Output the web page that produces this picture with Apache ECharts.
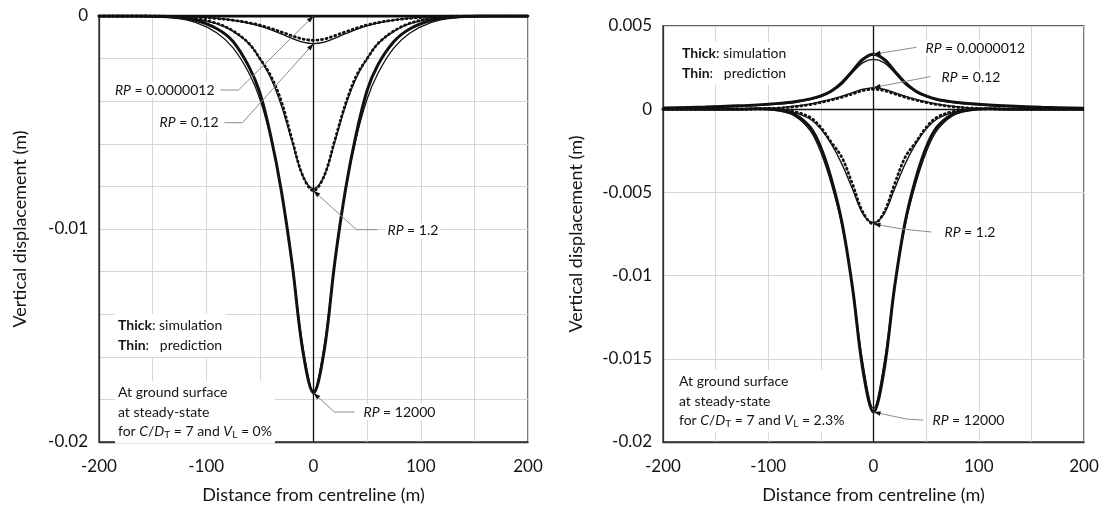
<!DOCTYPE html>
<html>
<head>
<meta charset="utf-8">
<script src="https://cdn.jsdelivr.net/npm/echarts@6/dist/echarts.min.js"></script>
<style>
  html, body { margin: 0; padding: 0; background: #fff; }
  #chart { width: 1107px; height: 509px; }
</style>
</head>
<body>
<div id="chart"></div>
<script>
// Distance from centreline (m)
const X = [-200, -160, -130, -110, -90, -75, -60, -50, -40, -30, -20, -10, 0,
           10, 20, 30, 40, 50, 60, 75, 90, 110, 130, 160, 200];

// Tick labels
const X_TICKS = ['-200', '-100', '0', '100', '200'];
const Y_TICKS_LEFT = ['0', '-0.01', '-0.02'];

// V_L = 0 %  (vertical displacement, m)
const L_RP1_SIM  = [0,0,0,0,0,0,0,0,0,0,0,0,0,0,0,0,0,0,0,0,0,0,0,0,0];
const L_RP1_PRED = [0,0,0,0,0,0,0,0,0,0,0,0,0,0,0,0,0,0,0,0,0,0,0,0,0];
const L_RP2_SIM  = [0,0,-0.00002,-0.00005,-0.00012,-0.0002,-0.00032,-0.00043,-0.00058,-0.00075,-0.00093,-0.00108,-0.00114,-0.00108,-0.00092,-0.00074,-0.00057,-0.00042,-0.00031,-0.00019,-0.00011,-0.00004,-0.00001,0,0];
const L_RP2_PRED = [0,0,-0.00001,-0.00004,-0.00011,-0.0002,-0.00034,-0.00047,-0.00064,-0.00084,-0.00105,-0.00123,-0.0013,-0.00123,-0.00104,-0.00083,-0.00063,-0.00046,-0.00033,-0.00019,-0.0001,-0.00003,-0.00001,0,0];
const L_RP3_SIM  = [0,0,-0.00004,-0.00012,-0.00035,-0.0007,-0.0013,-0.002,-0.0028,-0.004,-0.0058,-0.0075,-0.0082,-0.0075,-0.0058,-0.0041,-0.0028,-0.002,-0.0013,-0.0007,-0.00034,-0.00011,-0.00003,0,0];
const L_RP3_PRED = [0,0,-0.00005,-0.00013,-0.00037,-0.00072,-0.0013,-0.002,-0.0029,-0.0042,-0.0059,-0.0075,-0.0081,-0.0075,-0.0059,-0.0042,-0.0029,-0.002,-0.0013,-0.00072,-0.00036,-0.00012,-0.00004,0,0];
const L_RP4_SIM  = [0,0,-0.00005,-0.0002,-0.0006,-0.0012,-0.0024,-0.0036,-0.0056,-0.0082,-0.0116,-0.0157,-0.0177,-0.0157,-0.0115,-0.0081,-0.0055,-0.0035,-0.0023,-0.0012,-0.0006,-0.0002,-0.00005,0,0];
const L_RP4_PRED = [0,-0.00002,-0.0001,-0.0003,-0.0008,-0.0015,-0.0027,-0.0039,-0.0057,-0.0082,-0.0115,-0.0155,-0.0176,-0.0155,-0.0114,-0.0081,-0.0057,-0.0039,-0.0027,-0.0015,-0.0008,-0.0003,-0.0001,-0.00002,0];

// V_L = 2.3 %  (vertical displacement, m)
const R_RP1_SIM  = [0.00007,0.00013,0.0002,0.00026,0.00035,0.00045,0.00062,0.0008,0.0011,0.0016,0.0023,0.003,0.0033,0.003,0.0023,0.0016,0.0011,0.0008,0.0006,0.00044,0.00034,0.00025,0.00019,0.00012,0.00006];
const R_RP1_PRED = [0.00005,0.0001,0.00016,0.00022,0.0003,0.0004,0.00057,0.00075,0.00105,0.0015,0.0022,0.0028,0.003,0.0028,0.0022,0.0015,0.00105,0.00075,0.00056,0.0004,0.0003,0.00022,0.00016,0.0001,0.00005];
const R_RP2_SIM  = [0,0,0,0.00002,0.00007,0.00015,0.00028,0.0004,0.00055,0.00072,0.00092,0.00112,0.0012,0.00112,0.00092,0.00072,0.00055,0.0004,0.00028,0.00015,0.00007,0.00002,0,0,0];
const R_RP2_PRED = [0,0,0.00001,0.00003,0.00008,0.00018,0.00032,0.00045,0.0006,0.00078,0.001,0.0012,0.0013,0.0012,0.001,0.00078,0.0006,0.00045,0.00032,0.00018,0.00008,0.00003,0.00001,0,0];
const R_RP3_SIM  = [0,0,0,0.00002,0,-0.00015,-0.0005,-0.0011,-0.002,-0.0029,-0.0045,-0.0062,-0.0069,-0.0062,-0.0045,-0.0029,-0.002,-0.0011,-0.0005,-0.00015,0,0.00002,0,0,0];
const R_RP3_PRED = [0,0,0,0,-0.00003,-0.0002,-0.0006,-0.0012,-0.0021,-0.0033,-0.0048,-0.0063,-0.0068,-0.0063,-0.0048,-0.0033,-0.0021,-0.0012,-0.0006,-0.0002,-0.00003,0,0,0,0];
const R_RP4_SIM  = [0,0,0,0.00002,-0.00005,-0.0003,-0.0011,-0.0023,-0.0042,-0.0068,-0.0107,-0.0157,-0.0182,-0.0157,-0.0107,-0.0068,-0.0042,-0.0023,-0.0011,-0.0003,-0.00005,0.00002,0,0,0];
const R_RP4_PRED = [0,0,0,0,-0.0001,-0.0004,-0.0013,-0.0026,-0.0045,-0.007,-0.0106,-0.0153,-0.018,-0.0153,-0.0106,-0.007,-0.0045,-0.0026,-0.0013,-0.0004,-0.0001,0,0,0,0];

const FONT = 'Lato, "Open Sans", sans-serif';
const INK = '#111';
const TXT = '#141414';

const chart = echarts.init(document.getElementById('chart'), null, { renderer: 'canvas' });

function pairs(ys) { return X.map((x, i) => [x, ys[i]]); }

function curve(name, ys, grid, kind) {
  const base = {
    name, type: 'line', xAxisIndex: grid, yAxisIndex: grid,
    data: pairs(ys), showSymbol: false, symbol: 'none',
    smooth: 0.35, animation: false, silent: true
  };
  if (kind === 'thick') base.lineStyle = { color: INK, width: 3 };
  else if (kind === 'dots') base.lineStyle = { color: INK, width: 2.8, type: [1, 3.6], cap: 'round' };
  else base.lineStyle = { color: INK, width: 1.3 };
  return base;
}

function centreLines(withZero) {
  const d = [{ xAxis: 0 }];
  if (withZero) d.push({ yAxis: 0 });
  return {
    silent: true, symbol: 'none', animation: false,
    label: { show: false },
    lineStyle: { color: INK, width: 1.3, type: 'solid' },
    data: d
  };
}

function xAxisCfg(grid) {
  return {
    gridIndex: grid, type: 'value', min: -200, max: 200, interval: 50,
    name: 'Distance from centreline (m)', nameLocation: 'middle', nameGap: 44,
    nameTextStyle: { fontFamily: FONT, fontSize: 18, color: TXT },
    axisLine: { show: true, onZero: false, lineStyle: { color: '#333', width: 1.3 } },
    axisTick: { show: false },
    axisLabel: {
      fontFamily: FONT, fontSize: 17, color: TXT, margin: 16, interval: 0,
      formatter: v => {
        const s = String(Math.round(v));
        return X_TICKS.indexOf(s) >= 0 ? s : '';
      }
    },
    splitLine: { show: true, lineStyle: { color: '#d6d6d6', width: 1 } }
  };
}

const option = {
  backgroundColor: '#fff',
  animation: false,
  grid: [
    { left: 99, top: 16, width: 429, height: 427, show: true, borderColor: '#333', borderWidth: 1.3, backgroundColor: 'transparent' },
    { left: 663, top: 26, width: 421, height: 419, show: true, borderColor: '#333', borderWidth: 1.3, backgroundColor: 'transparent' }
  ],
  xAxis: [xAxisCfg(0), xAxisCfg(1)],
  yAxis: [
    {
      gridIndex: 0, type: 'value', min: -0.02, max: 0, interval: 0.002,
      name: 'Vertical displacement (m)', nameLocation: 'middle', nameGap: 70,
      nameTextStyle: { fontFamily: FONT, fontSize: 18, color: TXT },
      axisLine: { show: true, onZero: false, lineStyle: { color: '#333', width: 1.3 } },
      axisTick: { show: false },
      axisLabel: {
        fontFamily: FONT, fontSize: 17, color: TXT, margin: 11, interval: 0,
        formatter: v => {
          const s = v === 0 ? '0' : String(Number(v.toFixed(4)));
          return Y_TICKS_LEFT.indexOf(s) >= 0 ? s : '';
        }
      },
      splitLine: { show: true, lineStyle: { color: '#d6d6d6', width: 1 } }
    },
    {
      gridIndex: 1, type: 'value', min: -0.02, max: 0.005, interval: 0.005,
      name: 'Vertical displacement (m)', nameLocation: 'middle', nameGap: 78,
      nameTextStyle: { fontFamily: FONT, fontSize: 18, color: TXT },
      axisLine: { show: true, onZero: false, lineStyle: { color: '#333', width: 1.3 } },
      axisTick: { show: false },
      axisLabel: {
        fontFamily: FONT, fontSize: 17, color: TXT, margin: 11,
        formatter: v => (v === 0 ? '0' : String(Number(v.toFixed(4))))
      },
      splitLine: { show: true, lineStyle: { color: '#d6d6d6', width: 1 } }
    }
  ],
  series: [
    Object.assign(curve('RP = 0.0000012 simulation', L_RP1_SIM, 0, 'thick'), { markLine: centreLines(false) }),
    curve('RP = 0.0000012 prediction', L_RP1_PRED, 0, 'thin'),
    curve('RP = 0.12 prediction', L_RP2_PRED, 0, 'thin'),
    curve('RP = 0.12 simulation', L_RP2_SIM, 0, 'dots'),
    curve('RP = 1.2 prediction', L_RP3_PRED, 0, 'thin'),
    curve('RP = 1.2 simulation', L_RP3_SIM, 0, 'dots'),
    curve('RP = 12000 prediction', L_RP4_PRED, 0, 'thin'),
    curve('RP = 12000 simulation', L_RP4_SIM, 0, 'thick'),

    Object.assign(curve('RP = 0.0000012 simulation', R_RP1_SIM, 1, 'thick'), { markLine: centreLines(true) }),
    curve('RP = 0.0000012 prediction', R_RP1_PRED, 1, 'thin'),
    curve('RP = 0.12 prediction', R_RP2_PRED, 1, 'thin'),
    curve('RP = 0.12 simulation', R_RP2_SIM, 1, 'dots'),
    curve('RP = 1.2 prediction', R_RP3_PRED, 1, 'thin'),
    curve('RP = 1.2 simulation', R_RP3_SIM, 1, 'dots'),
    curve('RP = 12000 prediction', R_RP4_PRED, 1, 'thin'),
    curve('RP = 12000 simulation', R_RP4_SIM, 1, 'thick')
  ]
};

chart.setOption(option);

// Callouts: arrow tip sits on the centreline value of each curve pair,
// the leader runs through the listed pixel offsets to the label.
const CENTRE = X.indexOf(0);
function peak(a, b) {
  const va = a[CENTRE], vb = b[CENTRE];
  return Math.abs(va) >= Math.abs(vb) ? va : vb;
}
const CALLOUTS = [
  { grid: 0, rp: '0.0000012', v: peak(L_RP1_SIM, L_RP1_PRED), path: [[-75, 74], [-93, 74]], text: [-97, 74], align: 'right' },
  { grid: 0, rp: '0.12',      v: peak(L_RP2_SIM, L_RP2_PRED), path: [[-71, 79], [-89, 79]], text: [-93, 79], align: 'right' },
  { grid: 0, rp: '1.2',       v: peak(L_RP3_SIM, L_RP3_PRED), path: [[43, 39], [64, 39]],  text: [72, 40],  align: 'left' },
  { grid: 0, rp: '12000',     v: peak(L_RP4_SIM, L_RP4_PRED), path: [[21, 19], [41, 19]],  text: [48, 19],  align: 'left' },
  { grid: 1, rp: '0.0000012', v: peak(R_RP1_SIM, R_RP1_PRED), path: [[43, -7]],            text: [50, -6],  align: 'left' },
  { grid: 1, rp: '0.12',      v: peak(R_RP2_SIM, R_RP2_PRED), path: [[57, -11]],           text: [66, -10], align: 'left' },
  { grid: 1, rp: '1.2',       v: peak(R_RP3_SIM, R_RP3_PRED), path: [[29, 5], [58, 8]],    text: [69, 8],   align: 'left' },
  { grid: 1, rp: '12000',     v: peak(R_RP4_SIM, R_RP4_PRED), path: [[33, 7], [50, 8]],    text: [57, 8],   align: 'left' }
];

const RICH = {
  i:  { fontFamily: FONT, fontSize: 14, fontStyle: 'italic', fill: TXT, color: TXT },
  n:  { fontFamily: FONT, fontSize: 14, fill: TXT, color: TXT },
  b:  { fontFamily: FONT, fontSize: 14, fontWeight: 'bold', fill: TXT, color: TXT },
  s:  { fontFamily: FONT, fontSize: 10, fill: TXT, color: TXT, padding: [7, 0, 0, 0] }
};

function buildGraphics() {
  const els = [];
  CALLOUTS.forEach(c => {
    const tip = chart.convertToPixel({ gridIndex: c.grid }, [0, c.v]);
    const pts = [tip].concat(c.path.map(p => [tip[0] + p[0], tip[1] + p[1]]));
    els.push({
      type: 'polyline', silent: true, z: 50,
      shape: { points: pts },
      style: { stroke: '#8c8c8c', lineWidth: 1, fill: null }
    });
    // arrowhead aimed along the first leader segment
    const dx = tip[0] - pts[1][0], dy = tip[1] - pts[1][1];
    const len = Math.hypot(dx, dy) || 1;
    const ux = dx / len, uy = dy / len, nx = -uy, ny = ux;
    const L = 7, W = 2.4;
    els.push({
      type: 'polygon', silent: true, z: 51,
      shape: { points: [
        tip,
        [tip[0] - ux * L + nx * W, tip[1] - uy * L + ny * W],
        [tip[0] - ux * L - nx * W, tip[1] - uy * L - ny * W]
      ] },
      style: { fill: INK }
    });
    els.push({
      type: 'text', silent: true, z: 52,
      x: tip[0] + c.text[0], y: tip[1] + c.text[1],
      style: {
        text: '{i|RP}{n| = ' + c.rp + '}', rich: RICH,
        align: c.align, verticalAlign: 'middle',
        backgroundColor: '#fff', padding: [1, 2]
      }
    });
  });

  const notes = [
    { grid: 0, at: [16, 298], lines: ['{b|Thick}{n|: simulation}', '{b|Thin}{n|:   prediction}'] },
    { grid: 0, at: [16, 365], lines: ['{n|At ground surface}', '{n|at steady-state}', '{n|for }{i|C}{n|/}{i|D}{s|T}{n| = 7 and }{i|V}{s|L}{n| = 0%}'] },
    { grid: 1, at: [16, 16],  lines: ['{b|Thick}{n|: simulation}', '{b|Thin}{n|:   prediction}'] },
    { grid: 1, at: [13, 344], lines: ['{n|At ground surface}', '{n|at steady-state}', '{n|for }{i|C}{n|/}{i|D}{s|T}{n| = 7 and }{i|V}{s|L}{n| = 2.3%}'] }
  ];
  const gridBoxes = option.grid;
  notes.forEach(nb => {
    const g = gridBoxes[nb.grid];
    els.push({
      type: 'text', silent: true, z: 40,
      x: g.left + nb.at[0], y: g.top + nb.at[1],
      style: {
        text: nb.lines.join('\n'), rich: RICH,
        lineHeight: 19.5, align: 'left', verticalAlign: 'top',
        backgroundColor: '#fff', padding: [2, 3]
      }
    });
  });
  chart.setOption({ graphic: els });
}
buildGraphics();
</script>
</body>
</html>
